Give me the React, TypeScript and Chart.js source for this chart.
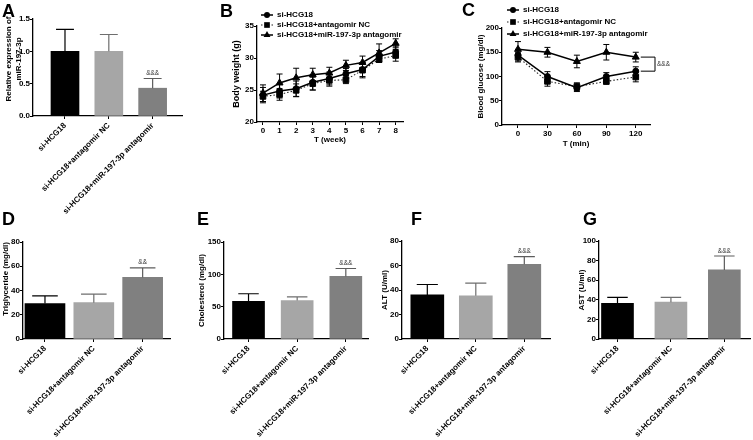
import React, { useEffect, useRef } from 'react';
import { Chart, registerables } from 'chart.js';

Chart.register(...registerables);

const FONT = 'Arial, "Liberation Sans", Helvetica, sans-serif';

// ---------------- data ----------------
const barGroups = ['si-HCG18', 'si-HCG18+antagomir NC', 'si-HCG18+miR-197-3p antagomir'];
const barColors = ['#000000', '#a6a6a6', '#808080'];
const errColors = ['#000000', '#6e6e6e', '#5c5c5c'];

const mirMean = [1.0, 1.0, 0.43];
const mirSD = [0.34, 0.26, 0.15];
const mirSig = ['', '', '&&&'];
const mirTitle = ['Relative expression of', 'miR-197-3p'];

const tgMean = [29.2, 30.0, 50.8];
const tgSD = [6.3, 7.0, 7.9];
const tgSig = ['', '', '&&'];

const cholMean = [58.4, 59.4, 96.8];
const cholSD = [11.6, 5.6, 12.2];
const cholSig = ['', '', '&&&'];

const altMean = [36.0, 35.3, 61.0];
const altSD = [8.5, 10.3, 6.3];
const altSig = ['', '', '&&&'];

const astMean = [36.3, 37.6, 70.5];
const astSD = [6.1, 4.8, 14.2];
const astSig = ['', '', '&&&'];

const lineGroups = ['si-HCG18', 'si-HCG18+antagomir NC', 'si-HCG18+miR-197-3p antagomir'];

const weeks = [0, 1, 2, 3, 4, 5, 6, 7, 8];
const bwHCG = [24.2, 24.85, 25.2, 26.2, 26.8, 27.55, 28.2, 30.25, 30.95];
const bwHCGsd = [1.2, 1.1, 1.2, 1.2, 1.0, 0.8, 1.1, 0.9, 0.9];
const bwNC = [24.0, 24.3, 24.95, 26.0, 26.5, 26.6, 28.1, 29.8, 30.4];
const bwNCsd = [0.8, 0.9, 1.0, 1.0, 0.9, 0.6, 1.2, 0.5, 0.9];
const bwAnt = [24.5, 26.1, 26.9, 27.4, 27.65, 28.85, 29.3, 30.8, 32.3];
const bwAntsd = [1.3, 1.4, 1.5, 1.0, 0.9, 0.8, 1.0, 1.4, 0.7];

const minutes = [0, 30, 60, 90, 120];
const bgHCG = [144, 100, 77, 100, 111];
const bgHCGsd = [12, 10, 8, 8, 9];
const bgNC = [140, 90, 79, 90, 99];
const bgNCsd = [10, 10, 8, 6, 10];
const bgAnt = [156, 150, 131, 150, 140];
const bgAntsd = [16, 10, 13, 16, 10];
const bgBracketText = '&&&';

// ---------------- plugins ----------------
const errorBarPlugin = {
  id: 'errorBars',
  afterDatasetsDraw(chart: any) {
    const ctx = chart.ctx;
    chart.data.datasets.forEach((ds: any, di: number) => {
      if (!ds.errors) return;
      const meta = chart.getDatasetMeta(di);
      const ys = chart.scales[meta.yAxisID];
      meta.data.forEach((el: any, i: number) => {
        const raw = ds.data[i];
        const v = typeof raw === 'object' ? raw.y : raw;
        const e = ds.errors[i];
        const x = el.x;
        const yTop = ys.getPixelForValue(v + e);
        const both = ds.errorMode === 'both';
        const yBot = both ? ys.getPixelForValue(v - e) : el.y;
        const color = Array.isArray(ds.errorColor) ? ds.errorColor[i] : ds.errorColor || '#000';
        const cap = ds.capHalf ?? 3;
        ctx.save();
        ctx.strokeStyle = color;
        ctx.lineWidth = ds.errorWidth ?? 1.2;
        ctx.beginPath();
        ctx.moveTo(x, yBot);
        ctx.lineTo(x, yTop);
        ctx.moveTo(x - cap, yTop);
        ctx.lineTo(x + cap, yTop);
        if (both) {
          ctx.moveTo(x - cap, yBot);
          ctx.lineTo(x + cap, yBot);
        }
        ctx.stroke();
        const sig = ds.sig ? ds.sig[i] : '';
        if (sig) {
          ctx.fillStyle = '#333';
          ctx.font = `6.5px ${FONT}`;
          ctx.textAlign = 'center';
          ctx.textBaseline = 'bottom';
          ctx.fillText(sig, x, yTop - 2);
        }
        ctx.restore();
      });
    });
  },
};

function drawMarker(ctx: CanvasRenderingContext2D, style: string, r: number, x: number, y: number) {
  ctx.beginPath();
  if (style === 'circle') {
    ctx.arc(x, y, r, 0, Math.PI * 2);
  } else if (style === 'rect') {
    const s = r * Math.SQRT1_2;
    ctx.rect(x - s, y - s, 2 * s, 2 * s);
  } else {
    const h = r;
    ctx.moveTo(x, y - h);
    ctx.lineTo(x + h * 0.866, y + h * 0.5);
    ctx.lineTo(x - h * 0.866, y + h * 0.5);
    ctx.closePath();
  }
  ctx.fill();
}

const legendPlugin = {
  id: 'customLegend',
  afterDraw(chart: any) {
    const o = chart.options.plugins.customLegend;
    if (!o) return;
    const ctx = chart.ctx;
    chart.data.datasets.forEach((ds: any, i: number) => {
      const y = o.y + i * o.rowH;
      ctx.save();
      ctx.strokeStyle = ds.borderColor;
      ctx.lineWidth = ds.borderWidth;
      ctx.setLineDash(ds.borderDash || []);
      ctx.beginPath();
      ctx.moveTo(o.x - 6, y);
      ctx.lineTo(o.x + 6, y);
      ctx.stroke();
      ctx.setLineDash([]);
      ctx.fillStyle = '#000';
      drawMarker(ctx, ds.pointStyle, ds.pointRadius, o.x, y);
      ctx.font = `bold 8px ${FONT}`;
      ctx.textAlign = 'left';
      ctx.textBaseline = 'middle';
      ctx.fillText(ds.label, o.textX, y);
      ctx.restore();
    });
  },
};

const bracketPlugin = {
  id: 'bracket',
  afterDatasetsDraw(chart: any) {
    const o = chart.options.plugins.bracket;
    if (!o) return;
    const ctx = chart.ctx;
    const a = chart.getDatasetMeta(o.top).data;
    const b = chart.getDatasetMeta(o.bottom).data;
    const pa = a[a.length - 1];
    const pb = b[b.length - 1];
    const bx = chart.chartArea.right + o.dx;
    ctx.save();
    ctx.strokeStyle = '#000';
    ctx.lineWidth = 1;
    ctx.beginPath();
    ctx.moveTo(pa.x + 5, pa.y);
    ctx.lineTo(bx, pa.y);
    ctx.lineTo(bx, pb.y);
    ctx.lineTo(pb.x + 5, pb.y);
    ctx.stroke();
    ctx.fillStyle = '#333';
    ctx.font = `6.5px ${FONT}`;
    ctx.textAlign = 'left';
    ctx.textBaseline = 'middle';
    ctx.fillText(o.text, bx + 2, (pa.y + pb.y) / 2);
    ctx.restore();
  },
};

// side title with each line centred on the same point (GraphPad style)
const sideTitlePlugin = {
  id: 'sideTitle',
  afterDraw(chart: any) {
    const o = chart.options.plugins.sideTitle;
    if (!o) return;
    const ctx = chart.ctx;
    ctx.save();
    ctx.translate(o.x, o.y);
    ctx.rotate(-Math.PI / 2);
    ctx.fillStyle = '#000';
    ctx.font = `bold 8px ${FONT}`;
    ctx.textAlign = 'center';
    ctx.textBaseline = 'middle';
    o.lines.forEach((t: string, i: number) => ctx.fillText(t, 0, i * o.lh));
    ctx.restore();
  },
};

// ---------------- config builders ----------------
const tickFont = { family: FONT, size: 8, weight: 'bold' as const };
const titleFont = { family: FONT, size: 8, weight: 'bold' as const, lineHeight: 1.25 };

function axisStyle(tickLen: number) {
  return {
    grid: { display: true, offset: false, drawOnChartArea: false, drawTicks: true, tickLength: tickLen, color: '#000', lineWidth: 1 },
    border: { display: true, color: '#000', width: 1.3 },
  };
}

type BarP = {
  w: number; h: number;
  area: { l: number; t: number; r: number; b: number };
  mean: number[]; sd: number[]; sig: string[];
  yMax: number; yStep: number; dec: number;
  title: string | string[]; align: 'start' | 'center' | 'end'; titlePad: number;
  barW: number; xMin: number; xMax: number;
  sideTitle?: any;
};

function barConfig(p: BarP): any {
  return {
    type: 'bar',
    data: {
      datasets: [
        {
          data: p.mean.map((v, i) => ({ x: i + 1, y: v })),
          backgroundColor: barColors,
          borderWidth: 0,
          barThickness: p.barW,
          errors: p.sd,
          errorMode: 'up',
          errorColor: errColors,
          capHalf: p.barW * 0.32,
          sig: p.sig,
        },
      ],
    },
    options: {
      responsive: false,
      animation: false,
      events: [],
      layout: { padding: { left: 0, top: p.area.t, right: p.w - p.area.r, bottom: 0 } },
      plugins: { legend: { display: false }, tooltip: { enabled: false }, sideTitle: p.sideTitle },
      scales: {
        x: {
          type: 'linear',
          min: p.xMin,
          max: p.xMax,
          offset: false,
          ...axisStyle(3),
          afterBuildTicks: (s: any) => {
            s.ticks = barGroups.map((_, i) => ({ value: i + 1 }));
          },
          afterFit: (s: any) => {
            s.height = p.h - p.area.b;
          },
          ticks: {
            autoSkip: false,
            minRotation: 45,
            maxRotation: 45,
            padding: 2,
            color: '#000',
            font: tickFont,
            callback: (v: number) => barGroups[Math.round(v) - 1] ?? '',
          },
        },
        y: {
          type: 'linear',
          min: 0,
          max: p.yMax,
          ...axisStyle(3),
          afterFit: (s: any) => {
            s.width = p.area.l;
          },
          ticks: {
            stepSize: p.yStep,
            padding: 0,
            color: '#000',
            font: tickFont,
            callback: (v: number) => Number(v).toFixed(p.dec),
          },
          title: {
            display: !p.sideTitle,
            text: p.title,
            align: p.align,
            color: '#000',
            font: titleFont,
            padding: { top: p.titlePad, bottom: 0 },
          },
        },
      },
    },
    plugins: [errorBarPlugin, sideTitlePlugin],
  };
}

type LineP = {
  w: number; h: number;
  area: { l: number; t: number; r: number; b: number };
  xs: number[];
  series: number[][]; sds: number[][];
  yMin: number; yMax: number; yStep: number;
  xMin: number; xMax: number;
  yTitle: string; yPad: number; yTitleSize: number; xTitle: string; xPad: number;
  legend: { x: number; textX: number; y: number; rowH: number };
  bracket?: any;
};

const lineStyles = [
  { pointStyle: 'circle', pointRadius: 3, borderColor: '#000', borderWidth: 1.5, borderDash: [] as number[] },
  { pointStyle: 'rect', pointRadius: 4, borderColor: '#222', borderWidth: 1.1, borderDash: [1.5, 2] },
  { pointStyle: 'triangle', pointRadius: 4, borderColor: '#000', borderWidth: 1.5, borderDash: [] as number[] },
];

function lineConfig(p: LineP): any {
  return {
    type: 'line',
    data: {
      datasets: p.series.map((s, k) => ({
        label: lineGroups[k],
        data: p.xs.map((x, i) => ({ x, y: s[i] })),
        ...lineStyles[k],
        pointBackgroundColor: '#000',
        pointBorderColor: '#000',
        pointBorderWidth: 1,
        tension: 0,
        fill: false,
        clip: false,
        errors: p.sds[k],
        errorMode: 'both',
        errorColor: '#000',
        errorWidth: 1,
        capHalf: 3,
      })),
    },
    options: {
      responsive: false,
      animation: false,
      events: [],
      layout: { padding: { left: 0, top: p.area.t, right: p.w - p.area.r, bottom: 0 } },
      plugins: {
        legend: { display: false },
        tooltip: { enabled: false },
        customLegend: p.legend,
        bracket: p.bracket,
      },
      scales: {
        x: {
          type: 'linear',
          min: p.xMin,
          max: p.xMax,
          offset: false,
          ...axisStyle(3),
          afterBuildTicks: (s: any) => {
            s.ticks = p.xs.map((v) => ({ value: v }));
          },
          afterFit: (s: any) => {
            s.height = p.h - p.area.b;
          },
          ticks: { autoSkip: false, maxRotation: 0, padding: 0.5, color: '#000', font: tickFont },
          title: {
            display: true,
            text: p.xTitle,
            color: '#000',
            font: titleFont,
            padding: { top: 0, bottom: p.xPad },
          },
        },
        y: {
          type: 'linear',
          min: p.yMin,
          max: p.yMax,
          ...axisStyle(3),
          afterFit: (s: any) => {
            s.width = p.area.l;
          },
          ticks: { stepSize: p.yStep, padding: 0, color: '#000', font: tickFont },
          title: {
            display: true,
            text: p.yTitle,
            color: '#000',
            font: { ...titleFont, size: p.yTitleSize },
            padding: { top: p.yPad, bottom: 0 },
          },
        },
      },
    },
    plugins: [errorBarPlugin, legendPlugin, bracketPlugin],
  };
}

// ---------------- components ----------------
function ChartBox({ left, top, w, h, make }: { left: number; top: number; w: number; h: number; make: () => any }) {
  const ref = useRef<HTMLCanvasElement | null>(null);
  useEffect(() => {
    if (!ref.current) return;
    const chart = new Chart(ref.current, make());
    return () => chart.destroy();
  }, []);
  return (
    <canvas
      ref={ref}
      width={w}
      height={h}
      style={{ position: 'absolute', left, top, width: w, height: h }}
    />
  );
}

function Letter({ ch, left, top }: { ch: string; left: number; top: number }) {
  return (
    <div
      style={{
        position: 'absolute',
        left,
        top,
        fontFamily: FONT,
        fontWeight: 'bold',
        fontSize: 18,
        lineHeight: '18px',
        color: '#000',
      }}
    >
      {ch}
    </div>
  );
}

export default function App() {
  const A = { left: 0, top: 0, w: 215, h: 215 };
  const B = { left: 228, top: 0, w: 190, h: 160 };
  const C = { left: 470, top: 0, w: 210, h: 160 };
  const D = { left: 0, top: 228, w: 180, h: 212 };
  const E = { left: 190, top: 228, w: 185, h: 212 };
  const F = { left: 375, top: 228, w: 185, h: 212 };
  const G = { left: 572, top: 228, w: 181, h: 212 };

  return (
    <div style={{ position: 'absolute', left: 0, top: 0, width: 753, height: 440, background: '#fff', overflow: 'hidden' }}>
      <ChartBox
        {...A}
        make={() =>
          barConfig({
            w: A.w, h: A.h, area: { l: 33, t: 19, r: 182, b: 116 },
            mean: mirMean, sd: mirSD, sig: mirSig, yMax: 1.5, yStep: 0.5, dec: 1,
            title: mirTitle, align: 'center', titlePad: 3.3,
            barW: 28, xMin: 0.27, xMax: 3.67,
            sideTitle: { lines: mirTitle, x: 8.3, y: 59, lh: 10 },
          })
        }
      />
      <ChartBox
        {...B}
        make={() =>
          lineConfig({
            w: B.w, h: B.h, area: { l: 29, t: 26, r: 175, b: 122 },
            xs: weeks, series: [bwHCG, bwNC, bwAnt], sds: [bwHCGsd, bwNCsd, bwAntsd],
            yMin: 20, yMax: 35, yStep: 5, xMin: -0.36, xMax: 8.44,
            yTitle: 'Body weight (g)', yPad: 3, yTitleSize: 9, xTitle: 'T (week)', xPad: 15,
            legend: { x: 39, textX: 49, y: 15, rowH: 10 },
          })
        }
      />
      <ChartBox
        {...C}
        make={() =>
          lineConfig({
            w: C.w, h: C.h, area: { l: 32, t: 28, r: 180, b: 125 },
            xs: minutes, series: [bgHCG, bgNC, bgAnt], sds: [bgHCGsd, bgNCsd, bgAntsd],
            yMin: 0, yMax: 200, yStep: 50, xMin: -16.3, xMax: 134.5,
            yTitle: 'Blood glucose (mg/dl)', yPad: 6.2, yTitleSize: 8, xTitle: 'T (min)', xPad: 11,
            legend: { x: 43, textX: 53, y: 10, rowH: 12 },
            bracket: { top: 2, bottom: 0, dx: 5, text: bgBracketText },
          })
        }
      />
      <ChartBox
        {...D}
        make={() =>
          barConfig({
            w: D.w, h: D.h, area: { l: 23, t: 14, r: 170, b: 111 },
            mean: tgMean, sd: tgSD, sig: tgSig, yMax: 80, yStep: 20, dec: 0,
            title: 'Triglyceride (mg/dl)', align: 'end', titlePad: 1.2,
            barW: 40, xMin: 0.55, xMax: 3.56,
          })
        }
      />
      <ChartBox
        {...E}
        make={() =>
          barConfig({
            w: E.w, h: E.h, area: { l: 34, t: 14, r: 178, b: 111 },
            mean: cholMean, sd: cholSD, sig: cholSig, yMax: 150, yStep: 50, dec: 0,
            title: 'Cholesterol (mg/dl)', align: 'center', titlePad: 6.9,
            barW: 32, xMin: 0.496, xMax: 3.456,
          })
        }
      />
      <ChartBox
        {...F}
        make={() =>
          barConfig({
            w: F.w, h: F.h, area: { l: 27, t: 13, r: 175, b: 111 },
            mean: altMean, sd: altSD, sig: altSig, yMax: 80, yStep: 20, dec: 0,
            title: 'ALT (U/ml)', align: 'center', titlePad: 5.2,
            barW: 33, xMin: 0.478, xMax: 3.53,
          })
        }
      />
      <ChartBox
        {...G}
        make={() =>
          barConfig({
            w: G.w, h: G.h, area: { l: 27, t: 13, r: 178, b: 111 },
            mean: astMean, sd: astSD, sig: astSig, yMax: 100, yStep: 20, dec: 0,
            title: 'AST (U/ml)', align: 'center', titlePad: 4.9,
            barW: 32, xMin: 0.654, xMax: 3.48,
          })
        }
      />
      <Letter ch="A" left={2} top={2} />
      <Letter ch="B" left={220} top={2} />
      <Letter ch="C" left={462} top={1} />
      <Letter ch="D" left={2} top={210} />
      <Letter ch="E" left={197} top={210} />
      <Letter ch="F" left={411} top={210} />
      <Letter ch="G" left={583} top={210} />
    </div>
  );
}
